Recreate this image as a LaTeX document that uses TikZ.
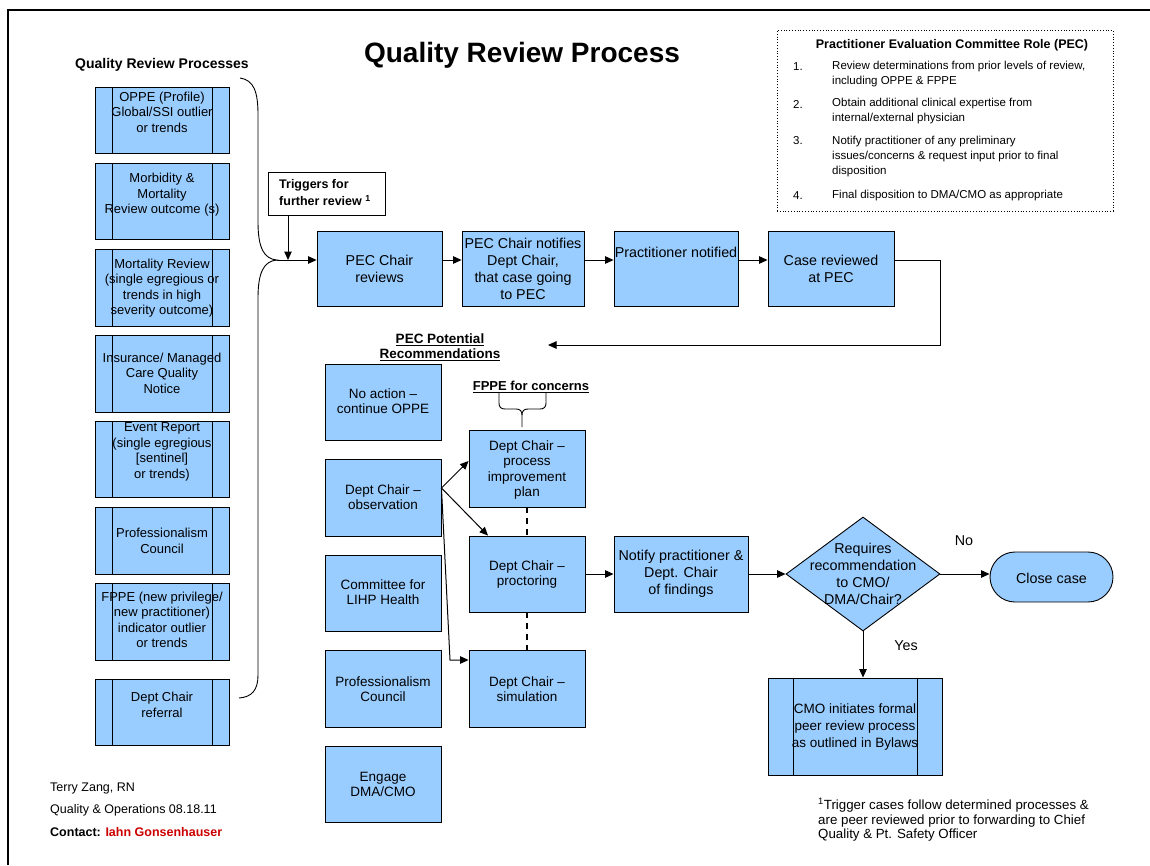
\documentclass[tikz,border=0pt]{standalone}
\usepackage{fontspec}
\setmainfont{Liberation Sans}
\usetikzlibrary{shapes.geometric,arrows.meta,calc}
\definecolor{boxblue}{HTML}{99CCFF}
\definecolor{contactred}{HTML}{CC0000}
\begin{document}
\begin{tikzpicture}[x=1pt,y=-1pt,
  box/.style={draw=black, fill=boxblue, line width=0.9pt, inner sep=0pt, rectangle},
  procbox/.style={box, path picture={\draw[line width=0.9pt]
      ([xshift=#1]path picture bounding box.north west) -- ([xshift=#1]path picture bounding box.south west)
      ([xshift=-#1]path picture bounding box.north east) -- ([xshift=-#1]path picture bounding box.south east);}},
  ltxt/.style={align=center, inner sep=0pt, font=\fontsize{13}{15.5}\selectfont},
  btxt/.style={align=center, inner sep=0pt, font=\fontsize{14.3}{17}\selectfont},
  mtxt/.style={align=center, inner sep=0pt, font=\fontsize{13.5}{15.3}\selectfont},
  rtxt/.style={align=left, inner sep=0pt, font=\fontsize{11.5}{15}\selectfont},
  arr/.style={-{Triangle[length=8.5pt,width=7.5pt]}, line width=1pt},
  hdr/.style={inner sep=0pt, font=\bfseries\fontsize{13.5}{15}\selectfont, align=center},
]
\useasboundingbox (0,0) rectangle (1150,865);
% frame
\draw[line width=1.3pt] (8,865) -- (8,10) -- (1150,10);

% titles
\node[inner sep=0pt, font=\bfseries\fontsize{28}{32}\selectfont] (title) at (522,55) {Quality Review Process};
\node[hdr, font=\bfseries\fontsize{14}{15}\selectfont] (lhdr) at (162,65) {Quality Review Processes};

% left process boxes
\node[procbox=17pt, minimum width=134pt, minimum height=66pt] (b1) at (162,120) {};
\node[procbox=17pt, minimum width=134pt, minimum height=76pt] (b2) at (162,201) {};
\node[procbox=17pt, minimum width=134pt, minimum height=77pt] (b3) at (162,287.5) {};
\node[procbox=17pt, minimum width=134pt, minimum height=77pt] (b4) at (162,373.5) {};
\node[procbox=17pt, minimum width=134pt, minimum height=76pt] (b5) at (162,459) {};
\node[procbox=17pt, minimum width=134pt, minimum height=67pt] (b6) at (162,540.5) {};
\node[procbox=17pt, minimum width=134pt, minimum height=77pt] (b7) at (162,621.5) {};
\node[procbox=17pt, minimum width=134pt, minimum height=66pt] (b8) at (162,712) {};
\node[ltxt] (t1) at (162,112) {OPPE (Profile)\\Global/SSI outlier\\or trends};
\node[ltxt] (t2) at (162,195) {Morbidity \&\\Mortality\\Review outcome (s)};
\node[ltxt] (t3) at (162,288) {Mortality Review\\(single egregious or\\trends in high\\severity outcome)};
\node[ltxt] (t4) at (162,373) {Insurance/ Managed\\Care Quality\\Notice};
\node[ltxt] (t5) at (162,452) {Event Report\\(single egregious\\{[sentinel]}\\or trends)};
\node[ltxt] (t6) at (162,541) {Professionalism\\Council};
\node[ltxt] (t7) at (162,620) {FPPE (new privilege/\\new practitioner)\\indicator outlier\\or trends};
\node[ltxt] (t8) at (162,705) {Dept Chair\\referral};

% big brace
\coordinate (tip) at (277,260);
\draw[line width=0.9pt] (240,78) .. controls (254,80) and (258,92) .. (258,115) -- (258,222)
  .. controls (258,248) and (264,259) .. (tip)
  .. controls (264,261) and (258,272) .. (258,298) -- (258,675)
  .. controls (258,690) and (252,697) .. (239,698);

% triggers box
\node[draw=black, line width=0.9pt, fill=white, minimum width=117pt, minimum height=43pt, inner sep=0pt] (trig) at (326.5,193.5) {};
\node[inner sep=0pt, align=left, font=\bfseries\fontsize{12.5}{17}\selectfont, anchor=west] (trigt) at (279,192.5) {Triggers for\\further review \textsuperscript{1}};
\coordinate (trigin) at (288,260);
\draw[arr] (trig.south -| trigin) -- (trigin);

% top row
\node[box, minimum width=125pt, minimum height=75pt] (r1) at (379.5,268.5) {};
\node[box, minimum width=122pt, minimum height=75pt] (r2) at (523,268.5) {};
\node[box, minimum width=124pt, minimum height=75pt] (r3) at (676,268.5) {};
\node[box, minimum width=126pt, minimum height=75pt] (r4) at (831,268.5) {};
\node[btxt] (rt1) at (379.5,268.5) {PEC Chair\\reviews};
\node[btxt] (rt2) at (523,268.5) {PEC Chair notifies\\Dept Chair,\\that case going\\to PEC};
\node[btxt] (rt3) at (676,252) {Practitioner notified};
\node[btxt] (rt4) at (831,268.5) {Case reviewed\\at PEC};
\draw[arr] (tip) -- (r1.west |- tip);
\draw[arr] (r1.east |- tip) -- (r2.west |- tip);
\draw[arr] (r2.east |- tip) -- (r3.west |- tip);
\draw[arr] (r3.east |- tip) -- (r4.west |- tip);
\coordinate (fbA) at (940,260);
\coordinate (fbB) at (940,345);
\coordinate (fbC) at (548,345);
\draw[arr] (r4.east |- fbA) -- (fbA) -- (fbB) -- (fbC);

% PEC role box
\node[draw=black, dotted, line width=0.8pt, minimum width=336pt, minimum height=181pt, inner sep=0pt] (role) at (945,120.5) {};
\node[inner sep=0pt, font=\bfseries\fontsize{12.5}{15}\selectfont] (roleh) at (952,45) {Practitioner Evaluation Committee Role (PEC)};
\node[rtxt, anchor=west] (n1) at (793,67) {1.};
\node[rtxt, anchor=west] (n2) at (793,104) {2.};
\node[rtxt, anchor=west] (n3) at (793,141) {3.};
\node[rtxt, anchor=west] (n4) at (793,196) {4.};
\node[rtxt, anchor=west] (i1) at (832,74.5) {Review determinations from prior levels of review,\\including OPPE \& FPPE};
\node[rtxt, anchor=west] (i2) at (832,111.5) {Obtain additional clinical expertise from\\internal/external physician};
\node[rtxt, anchor=west] (i3) at (832,157) {Notify practitioner of any preliminary\\issues/concerns \& request input prior to final\\disposition};
\node[rtxt, anchor=west] (i4) at (832,196) {Final disposition to DMA/CMO as appropriate};

% recommendations header
\node[hdr] (rech) at (440,347.5) {\underline{PEC Potential}\\\underline{Recommendations}};

% lower left column
\node[box, minimum width=116pt, minimum height=76pt] (c1) at (383,402) {};
\node[box, minimum width=116pt, minimum height=77pt] (c2) at (383,497.5) {};
\node[box, minimum width=116pt, minimum height=76pt] (c3) at (383,593) {};
\node[box, minimum width=116pt, minimum height=77pt] (c4) at (383,688.5) {};
\node[box, minimum width=116pt, minimum height=76pt] (c5) at (383,784) {};
\node[mtxt] (ct1) at (383,401.5) {No action --\\continue OPPE};
\node[mtxt] (ct2) at (383,497.5) {Dept Chair --\\observation};
\node[mtxt] (ct3) at (383,592.5) {Committee for\\LIHP Health};
\node[mtxt] (ct4) at (383,689.5) {Professionalism\\Council};
\node[mtxt] (ct5) at (383,784.5) {Engage\\DMA/CMO};

% middle column
\node[box, minimum width=116pt, minimum height=77pt] (m1) at (527,468.5) {};
\node[box, minimum width=116pt, minimum height=76pt] (m2) at (527,574) {};
\node[box, minimum width=116pt, minimum height=77pt] (m3) at (527,688.5) {};
\node[mtxt] (mt1) at (527,470) {Dept Chair --\\process\\improvement\\plan};
\node[mtxt] (mt2) at (527,574.5) {Dept Chair --\\proctoring};
\node[mtxt] (mt3) at (527,689.5) {Dept Chair --\\simulation};
\draw[line width=1.5pt, dash pattern=on 6pt off 5pt] (m1.south) -- (m2.north);
\draw[line width=1.5pt, dash pattern=on 6pt off 5pt] (m2.south) -- (m3.north);

% FPPE for concerns + small brace
\node[hdr, font=\bfseries\fontsize{13}{15}\selectfont] (fppeh) at (531,387) {\underline{FPPE for concerns}};
\coordinate (stip) at (522,427);
\draw[line width=0.9pt] (499,393) -- (499,403) .. controls (499,407) and (501,409) .. (505,409) -- (516,409)
  .. controls (520,409) and (522,411) .. (522,415) -- (stip);
\draw[line width=0.9pt] (546,393) -- (546,403) .. controls (546,407) and (544,409) .. (540,409) -- (528,409)
  .. controls (524,409) and (522,411) .. (522,415);

% arrows from observation
\coordinate (obsout) at ([yshift=9.5pt]c2.east);
\coordinate (simbend) at (450,660);
\draw[arr] (obsout) -- ([yshift=7.5pt]m1.west);
\draw[arr] (obsout) -- ([xshift=-39pt]m2.north);
\draw[arr] (obsout) -- (simbend) -- (simbend -| m3.west);

% notify, decision, close, CMO
\node[box, minimum width=134pt, minimum height=76pt] (nt) at (681,574) {};
\node[btxt] (ntt) at (681,574) {Notify practitioner \&\\Dept. Chair\\of findings};
\draw[arr] (m2.east) -- (nt.west);
\node[diamond, draw=black, fill=boxblue, line width=0.9pt, inner sep=0pt, minimum width=154pt, minimum height=114pt] (dia) at (863,574) {};
\node[btxt] (diat) at (863,574) {Requires\\recommendation\\to CMO/\\DMA/Chair?};
\draw[arr] (nt.east) -- (dia.west);
\node[box, rounded corners=25pt, minimum width=123pt, minimum height=50pt] (close) at (1051.5,577) {};
\node[btxt] (closet) at (1051.5,578) {Close case};
\draw[arr] (dia.east) -- (dia.east -| close.west);
\node[btxt] (nolab) at (964,541) {No};
\node[procbox=25pt, minimum width=174pt, minimum height=97pt] (cmo) at (855,726.5) {};
\node[btxt, font=\fontsize{13.5}{17}\selectfont] (cmot) at (855,727) {CMO initiates formal\\peer review process\\as outlined in Bylaws};
\draw[arr] (dia.south) -- (dia.south |- cmo.north);
\node[btxt] (yeslab) at (906,646) {Yes};

% footer
\node[inner sep=0pt, anchor=west, font=\fontsize{12.5}{14}\selectfont] (fa) at (50,788) {Terry Zang, RN};
\node[inner sep=0pt, anchor=west, font=\fontsize{12.5}{14}\selectfont] (fb) at (50,810) {Quality \& Operations 08.18.11};
\node[inner sep=0pt, anchor=west, font=\bfseries\fontsize{12.5}{14}\selectfont] (fc) at (50,832) {Contact: \textcolor{contactred}{Iahn Gonsenhauser}};
\node[inner sep=0pt, anchor=west, align=left, font=\fontsize{13.3}{14.5}\selectfont] (fn) at (818,820) {\textsuperscript{1}Trigger cases follow determined processes \&\\are peer reviewed prior to forwarding to Chief\\Quality \& Pt. Safety Officer};
\end{tikzpicture}
\end{document}
